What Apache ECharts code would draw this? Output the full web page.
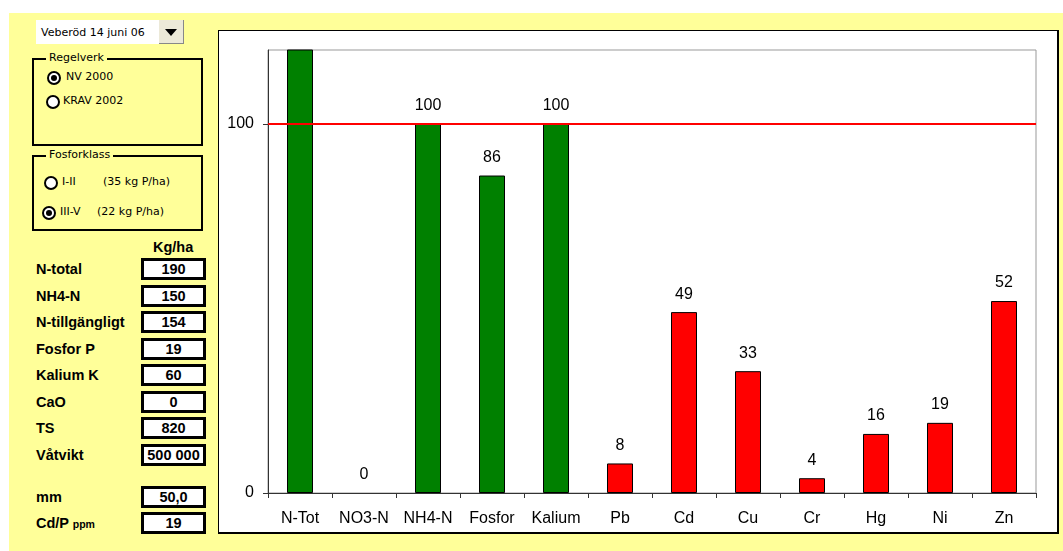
<!DOCTYPE html>
<html>
<head>
<meta charset="utf-8">
<script src="https://cdn.jsdelivr.net/npm/echarts@6/dist/echarts.min.js"></script>
<style>
  html, body { margin: 0; padding: 0; background: #fff; }
  .page { position: relative; width: 1063px; height: 551px; overflow: hidden; }
  .yellow { position: absolute; left: 9px; top: 13px; width: 1054px; height: 538px; background: #FFFF99; }
  .abs { position: absolute; white-space: nowrap; }
  .ctl { font-family: "DejaVu Sans", Tahoma, sans-serif; font-size: 11px; color: #000; line-height: 12px; }
  .lbl { font-family: "Liberation Sans", Arial, sans-serif; font-weight: bold; font-size: 14.5px; color: #000; line-height: 16px; }
  .box { position: absolute; left: 141px; width: 59px; height: 16px; border: 3px solid #000; background: #fff;
         text-align: center; font-family: "Liberation Sans", Arial, sans-serif; font-weight: bold; font-size: 14.5px; line-height: 16px; }
  .grp { position: absolute; left: 32px; width: 167px; border: 2px solid #000; }
  .legend { position: absolute; left: 12px; top: -8px; padding: 0 3px; background: #FFFF99; }
  .radio { position: absolute; width: 10px; height: 10px; border: 2px solid #000; border-radius: 50%; background: #fff; }
  .radio.on::after { content: ""; position: absolute; left: 2px; top: 2px; width: 6px; height: 6px; border-radius: 50%; background: #000; }
  .chartbox { position: absolute; left: 218px; top: 30px; width: 838px; height: 501px; background: #fff;
              border: 1px solid #000; border-right-width: 2px; border-bottom-width: 2px; }
  #chart { position: absolute; left: 0; top: 0; width: 1063px; height: 551px; }
</style>
</head>
<body>
<div class="page">
  <div class="yellow"></div>

  <!-- dropdown -->
  <div class="abs ctl" style="left:36px;top:20px;width:123px;height:24px;background:#fff;"></div>
  <div class="abs ctl" style="left:41px;top:27px;">Veberöd 14 juni 06</div>
  <div class="abs" style="left:159px;top:20px;width:24px;height:23px;background:#ECE9D8;border-right:1px solid #888;border-bottom:1px solid #888;"></div>
  <div class="abs" style="left:165px;top:29px;width:0;height:0;border-left:6px solid transparent;border-right:6px solid transparent;border-top:7px solid #000;"></div>

  <!-- Regelverk -->
  <div class="grp" style="top:58px;height:84px;"><div class="legend ctl">Regelverk</div></div>
  <div class="radio on" style="left:47px;top:71px;"></div>
  <div class="abs ctl" style="left:66px;top:71px;">NV 2000</div>
  <div class="radio" style="left:46px;top:95px;"></div>
  <div class="abs ctl" style="left:63px;top:95px;">KRAV 2002</div>

  <!-- Fosforklass -->
  <div class="grp" style="top:155px;height:72px;"><div class="legend ctl">Fosforklass</div></div>
  <div class="radio" style="left:44px;top:176px;"></div>
  <div class="abs ctl" style="left:62px;top:176px;">I-II</div>
  <div class="abs ctl" style="left:103px;top:176px;">(35 kg P/ha)</div>
  <div class="radio on" style="left:42px;top:206px;"></div>
  <div class="abs ctl" style="left:60px;top:206px;">III-V</div>
  <div class="abs ctl" style="left:97px;top:206px;">(22 kg P/ha)</div>

  <!-- values -->
  <div class="abs lbl" style="left:153px;top:239px;">Kg/ha</div>
  <div id="rows"></div>

  <div class="chartbox"></div>
  <div id="chart"></div>
</div>

<script>
// chart data
var categories = ['N-Tot', 'NO3-N', 'NH4-N', 'Fosfor', 'Kalium', 'Pb', 'Cd', 'Cu', 'Cr', 'Hg', 'Ni', 'Zn'];
var values = [127, 0, 100, 86, 100, 8, 49, 33, 4, 16, 19, 52];
var nutrientCount = 5; // first five are nutrients (green), rest metals (red)
var limitValue = 100;
var yMax = 120;
var yTicks = [0, 100];

// left panel
var rowLabels = ['N-total', 'NH4-N', 'N-tillgängligt', 'Fosfor P', 'Kalium K', 'CaO', 'TS', 'Våtvikt'];
var rowValues = ['190', '150', '154', '19', '60', '0', '820', '500 000'];
var extraLabels = ['mm', 'Cd/P'];
var extraValues = ['50,0', '19'];

var rowsEl = document.getElementById('rows');
var html = '';
for (var i = 0; i < rowLabels.length; i++) {
  var cy = 269.3 + i * 26.5;
  html += '<div class="abs lbl" style="left:36px;top:' + (cy - 8) + 'px;">' + rowLabels[i] + '</div>';
  html += '<div class="box" style="top:' + (cy - 11) + 'px;">' + rowValues[i] + '</div>';
}
for (var j = 0; j < extraLabels.length; j++) {
  var cy2 = 497 + j * 26;
  var txt = extraLabels[j] + (j === 1 ? ' <span style="font-size:10.5px">ppm</span>' : '');
  html += '<div class="abs lbl" style="left:36px;top:' + (cy2 - 8) + 'px;">' + txt + '</div>';
  html += '<div class="box" style="top:' + (cy2 - 11) + 'px;">' + extraValues[j] + '</div>';
}
rowsEl.innerHTML = html;

var myChart = echarts.init(document.getElementById('chart'));
var font = '"Liberation Sans", Arial, sans-serif';

var barData = values.map(function (v, idx) {
  return {
    value: v,
    itemStyle: {
      color: idx < nutrientCount ? '#008000' : '#FF0000',
      borderWidth: v === 0 ? 0 : 1
    },
    label: { show: v <= yMax }
  };
});

myChart.setOption({
  animation: false,
  grid: {
    left: 268, top: 50, width: 768, height: 443,
    show: true, borderColor: '#999', borderWidth: 1, backgroundColor: 'transparent'
  },
  xAxis: {
    type: 'category',
    data: categories,
    axisLine: { lineStyle: { color: '#333', width: 1 } },
    axisTick: { show: true, length: 5, lineStyle: { color: '#333' } },
    axisLabel: { color: '#000', fontSize: 16, fontFamily: font, margin: 18, interval: 0 },
    splitLine: { show: false }
  },
  yAxis: {
    type: 'value',
    min: 0,
    max: yMax,
    interval: 20,
    axisLine: { show: true, lineStyle: { color: '#333', width: 1 } },
    axisTick: { show: true, length: 5, lineStyle: { color: '#333' }, customValues: yTicks },
    axisLabel: { color: '#000', fontSize: 16, fontFamily: font, margin: 14, customValues: yTicks },
    splitLine: { show: false }
  },
  series: [{
    type: 'bar',
    data: barData,
    barWidth: 26,
    clip: true,
    itemStyle: { borderColor: '#000' },
    label: { position: 'top', distance: 10, color: '#000', fontSize: 16, fontFamily: font },
    markLine: {
      silent: true,
      symbol: ['none', 'none'],
      label: { show: false },
      lineStyle: { color: '#FF0000', width: 2, type: 'solid' },
      data: [{ yAxis: limitValue }]
    }
  }]
});
</script>
</body>
</html>
